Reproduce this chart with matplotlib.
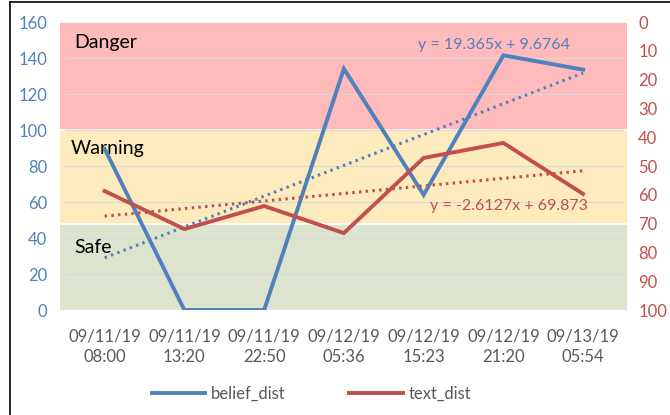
import matplotlib
matplotlib.use("Agg")
import matplotlib.pyplot as plt
import numpy as np
from matplotlib.lines import Line2D

plt.rcParams['font.family'] = ['Lato', 'DejaVu Sans']

# data
dates = ["09/11/19\n08:00", "09/11/19\n13:20", "09/11/19\n22:50", "09/12/19\n05:36",
         "09/12/19\n15:23", "09/12/19\n21:20", "09/13/19\n05:54"]
belief_dist = [89.5, 0, 0, 134, 64, 141.5, 133.5]
text_dist = [58.7, 71.9, 63.9, 73.3, 47.2, 42.0, 59.7]
zones = [("Safe", 0, 48), ("Warning", 48, 100), ("Danger", 100, 160)]
belief_eq = "y = 19.365x + 9.6764"
text_eq = "y = -2.6127x + 69.873"

BLUE = "#4F81BD"
RED = "#C0504D"
ZONE_COLORS = {"Safe": "#DDE4CD", "Warning": "#FDEBBD", "Danger": "#FFBBBB"}

fig = plt.figure(figsize=(6.7, 4.15), dpi=100)
ax = fig.add_axes([60 / 670, 105 / 415, 567 / 670, 288 / 415])
ax2 = ax.twinx()

x = np.arange(1, len(dates) + 1)

""" Zone bands """
for name, lo, hi in zones:
    ax.axhspan(lo, hi, color=ZONE_COLORS[name], zorder=0, lw=0)
    ax.axhline(hi, color="white", lw=1.2, zorder=0.5)
ax.text(0.62, 148.5, "Danger", fontsize=14, va="center", ha="left", color="black")
ax.text(0.58, 90, "Warning", fontsize=14, va="center", ha="left", color="black")
ax.text(0.62, 35, "Safe", fontsize=14, va="center", ha="left", color="black")

for g in range(20, 160, 20):
    ax.plot([0.5, 7.5], [g, g], color="#D9D9D9", lw=0.8, zorder=0.6)

""" Lines and trends """
ax.plot(x, belief_dist, color=BLUE, lw=2.8, zorder=3, solid_joinstyle="miter")
bfit = np.polyfit(x, belief_dist, 1)
ax.plot(x, np.polyval(bfit, x), color=BLUE, lw=2.2, ls=(0, (0.8, 1.4)), zorder=3)

ax2.plot(x, text_dist, color=RED, lw=2.8, zorder=3, solid_joinstyle="miter")
tfit = np.polyfit(x, text_dist, 1)
ax2.plot(x, np.polyval(tfit, x), color=RED, lw=2.2, ls=(0, (0.8, 1.4)), zorder=3)

ax.text(5.88, 147.5, belief_eq, color=BLUE, fontsize=11.5, ha="center", va="center")
ax2.text(6.07, 64, text_eq, color=RED, fontsize=11.5, ha="center", va="center")

""" Axes styling """
ax.set_xlim(0.44, 7.55)
ax.set_ylim(0, 160)
ax.set_yticks(range(0, 161, 20))
ax2.set_ylim(100, 0)
ax2.set_yticks(range(0, 101, 10))
ax.set_xticks(x)
ax.set_xticklabels(dates, linespacing=1.4)

for a in (ax, ax2):
    for s in a.spines.values():
        s.set_visible(False)
ax.tick_params(axis="y", length=0, pad=9, labelcolor=BLUE, labelsize=12)
ax.tick_params(axis="x", length=0, pad=13, labelcolor="#595959", labelsize=12)
ax2.tick_params(axis="y", length=0, pad=8, labelcolor=RED, labelsize=12)

""" Legend """
handles = [Line2D([], [], color=BLUE, lw=2.8), Line2D([], [], color=RED, lw=2.8)]
fig.legend(handles, ["belief_dist", "text_dist"], ncol=2, loc="center",
           bbox_to_anchor=(0.465, 0.05), frameon=False, fontsize=12,
           handlelength=3.2, handletextpad=0.35, columnspacing=3.8,
           labelcolor="#595959")

""" Figure border """
fig.add_artist(Line2D([9.5 / 670, 9.5 / 670], [0, 1 - 2.5 / 415], color="black", lw=1.2))
fig.add_artist(Line2D([9.5 / 670, 1], [1 - 2.5 / 415, 1 - 2.5 / 415], color="black", lw=1.2))

fig.savefig("out.png", dpi=100)
